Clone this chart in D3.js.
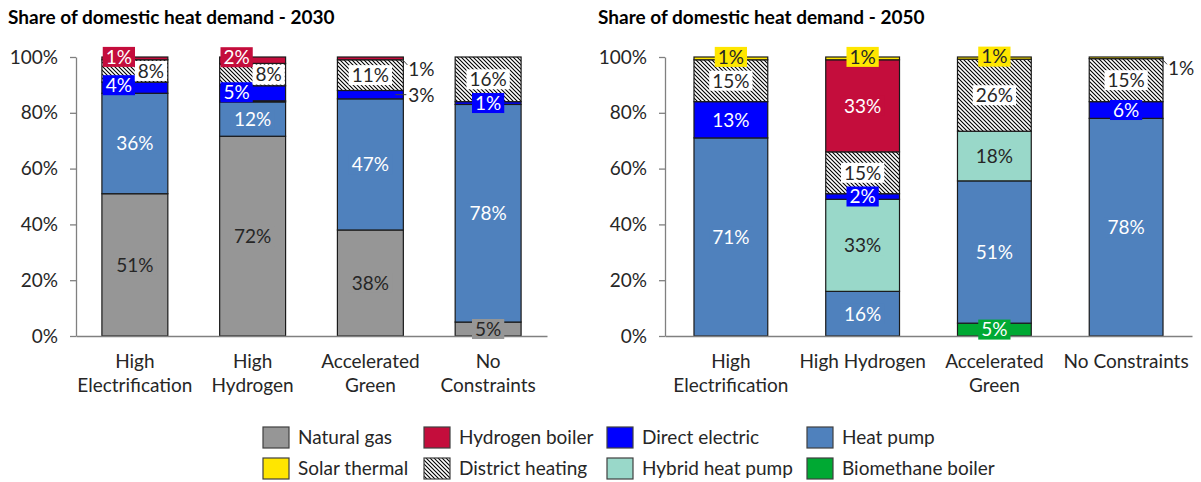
<!DOCTYPE html>
<html>
<head>
<meta charset="utf-8">
<script src="https://cdn.jsdelivr.net/npm/d3@7"></script>
<style>
  html, body { margin: 0; padding: 0; background: #fff; }
  svg { display: block; }
  text { font-family: Lato, "Open Sans", sans-serif; }
</style>
</head>
<body>
<svg id="chart" width="1201" height="482"></svg>
<script>
// ---------------- DATA ----------------
const categories = ["High Electrification", "High Hydrogen", "Accelerated Green", "No Constraints"];
const seriesNames = ["Biomethane boiler", "Natural gas", "Heat pump", "Hybrid heat pump",
                     "Direct electric", "District heating", "Hydrogen boiler", "Solar thermal"];
const legendOrder = ["Natural gas", "Hydrogen boiler", "Direct electric", "Heat pump",
                     "Solar thermal", "District heating", "Hybrid heat pump", "Biomethane boiler"];
const yTicks = [0, 20, 40, 60, 80, 100];
const chartTitles = ["Share of domestic heat demand - 2030", "Share of domestic heat demand - 2050"];

// 2030 shares (%)
const biomethane2030      = [0, 0, 0, 0];
const naturalGas2030      = [51, 71.6, 38, 5];
const heatPump2030        = [36, 12.3, 47, 78];
const hybridHeatPump2030  = [0, 0.4, 0, 0];
const directElectric2030  = [4, 5.4, 3, 1];
const districtHeating2030 = [8, 8, 11, 16];
const hydrogenBoiler2030  = [1, 2.3, 1, 0];
const solarThermal2030    = [0, 0, 0, 0];

// 2050 shares (%)
const biomethane2050      = [0, 0, 4.6, 0];
const naturalGas2050      = [0, 0, 0, 0];
const heatPump2050        = [71, 16, 51, 78];
const hybridHeatPump2050  = [0, 33, 17.8, 0];
const directElectric2050  = [13, 2, 0, 6];
const districtHeating2050 = [15, 15, 25.8, 15.4];
const hydrogenBoiler2050  = [0, 33, 0, 0];
const solarThermal2050    = [1, 1, 0.8, 0.6];

// ---------------- STYLE ----------------
const colors = {
  "Natural gas": "#969696",
  "Hydrogen boiler": "#C40D3C",
  "Direct electric": "#0000FF",
  "Heat pump": "#4F81BD",
  "Solar thermal": "#FFE600",
  "District heating": "url(#hatch)",
  "Hybrid heat pump": "#99D8C9",
  "Biomethane boiler": "#00A933"
};
const labelBg = {
  "Natural gas": "#969696",
  "Hydrogen boiler": "#C40D3C",
  "Direct electric": "#0000FF",
  "Heat pump": "#4F81BD",
  "Solar thermal": "#FFE600",
  "District heating": "#FFFFFF",
  "Hybrid heat pump": "#99D8C9",
  "Biomethane boiler": "#00A933"
};
const labelColor = {
  "Natural gas": "#262626",
  "Hydrogen boiler": "#FFFFFF",
  "Direct electric": "#FFFFFF",
  "Heat pump": "#FFFFFF",
  "Solar thermal": "#262626",
  "District heating": "#262626",
  "Hybrid heat pump": "#262626",
  "Biomethane boiler": "#FFFFFF"
};

const years = [
  {
    title: chartTitles[0], titleX: 8, x0: 76, x1: 547,
    values: {
      "Biomethane boiler": biomethane2030, "Natural gas": naturalGas2030, "Heat pump": heatPump2030,
      "Hybrid heat pump": hybridHeatPump2030, "Direct electric": directElectric2030,
      "District heating": districtHeating2030, "Hydrogen boiler": hydrogenBoiler2030,
      "Solar thermal": solarThermal2030
    },
    // manual label placement (category index -> series -> offset)
    place: {
      0: { "Hydrogen boiler": {dx: -16, dy: -1.5}, "District heating": {dx: 16, dy: 0}, "Direct electric": {dx: -16, dy: -2.5} },
      1: { "Hydrogen boiler": {dx: -16, dy: -3}, "District heating": {dx: 16, dy: 0}, "Direct electric": {dx: -16, dy: -1} },
      2: { "Hydrogen boiler": {outside: true, dy: 10.5, leader: "diag"}, "Direct electric": {outside: true, dy: 0, leader: "flat"} }
    }
  },
  {
    title: chartTitles[1], titleX: 598, x0: 665, x1: 1192,
    values: {
      "Biomethane boiler": biomethane2050, "Natural gas": naturalGas2050, "Heat pump": heatPump2050,
      "Hybrid heat pump": hybridHeatPump2050, "Direct electric": directElectric2050,
      "District heating": districtHeating2050, "Hydrogen boiler": hydrogenBoiler2050,
      "Solar thermal": solarThermal2050
    },
    place: {
      0: { "Solar thermal": {dx: 0, dy: -1.5} },
      1: { "Solar thermal": {dx: 0, dy: -1.5} },
      2: { "Solar thermal": {dx: 0, dy: -1.5} },
      3: { "Solar thermal": {outside: true, dy: 10.5, leader: "diag"} }
    }
  }
];

// ---------------- DRAW ----------------
const svg = d3.select("#chart");
const FONT = 19;

const defs = svg.append("defs");
const pat = defs.append("pattern")
  .attr("id", "hatch").attr("patternUnits", "userSpaceOnUse")
  .attr("width", 4).attr("height", 4);
pat.append("rect").attr("width", 4).attr("height", 4).attr("fill", "#fff");
pat.append("path").attr("d", "M-1,-1 L5,5 M-1,3 L1,5 M3,-1 L5,1")
  .attr("stroke", "#000").attr("stroke-width", 1.1);

const y = d3.scaleLinear().domain([0, 100]).range([336, 57]);

function measure(txt, size, weight) {
  const t = svg.append("text").attr("font-size", size).attr("font-weight", weight || "normal").text(txt);
  const w = t.node().getComputedTextLength();
  t.remove();
  return w;
}

function wrapWords(label, maxW) {
  const words = label.split(" ");
  const lines = [];
  let cur = "";
  words.forEach(w => {
    const test = cur ? cur + " " + w : w;
    if (cur && measure(test, FONT) > maxW) { lines.push(cur); cur = w; }
    else cur = test;
  });
  if (cur) lines.push(cur);
  return lines;
}

years.forEach(yr => {
  const g = svg.append("g");
  const x = d3.scaleBand().domain(categories).range([yr.x0, yr.x1])
    .paddingInner(0.44).paddingOuter(0.22);

  // title
  g.append("text").attr("x", yr.titleX).attr("y", 24)
    .attr("font-size", 19).attr("font-weight", "bold").attr("fill", "#000")
    .text(yr.title);

  // stack
  const rows = categories.map((c, i) => {
    const r = { category: c };
    seriesNames.forEach(s => r[s] = yr.values[s][i]);
    return r;
  });
  const stacked = d3.stack().keys(seriesNames)(rows);

  const barsG = g.append("g");
  stacked.forEach(layer => {
    const s = layer.key;
    barsG.selectAll(null).data(layer.filter(d => d[1] - d[0] > 0)).enter()
      .append("rect")
      .attr("x", d => x(d.data.category))
      .attr("width", x.bandwidth())
      .attr("y", d => y(d[1]))
      .attr("height", d => y(d[0]) - y(d[1]))
      .attr("fill", colors[s])
      .attr("stroke", "#1a1a1a").attr("stroke-width", 1.2);
  });

  // axes
  const yAxis = d3.axisLeft(y).tickValues(yTicks).tickFormat(d => d + "%")
    .tickSize(6).tickSizeOuter(0).tickPadding(12);
  const ya = g.append("g").attr("transform", `translate(${yr.x0},0)`).call(yAxis);
  ya.selectAll("path, line").attr("stroke", "#808080").attr("stroke-width", 1.3);
  ya.selectAll("text").attr("font-size", FONT).attr("fill", "#262626")
    .attr("font-family", "Lato, sans-serif");

  const xAxis = d3.axisBottom(x).tickSize(0).tickSizeOuter(0).tickFormat("");
  const xa = g.append("g").attr("transform", `translate(0,${y(0)})`).call(xAxis);
  xa.selectAll("path").attr("stroke", "#808080").attr("stroke-width", 1.3);

  categories.forEach(c => {
    const lines = wrapWords(c, x.step());
    const t = g.append("text").attr("text-anchor", "middle")
      .attr("font-size", FONT).attr("fill", "#262626");
    lines.forEach((ln, k) => {
      t.append("tspan").attr("x", x(c) + x.bandwidth() / 2).attr("y", 368 + k * 24).text(ln);
    });
  });

  // data labels
  const labG = g.append("g");
  stacked.forEach(layer => {
    const s = layer.key;
    layer.forEach((d, i) => {
      const v = d[1] - d[0];
      if (v < 0.5) return;
      const txt = Math.round(v) + "%";
      const cx = x(d.data.category) + x.bandwidth() / 2;
      const cy = y((d[0] + d[1]) / 2);
      const p = (yr.place[i] && yr.place[i][s]) || {dx: 0, dy: 0};
      const w = measure(txt, FONT);
      if (p.outside) {
        const right = x(d.data.category) + x.bandwidth();
        const ty = cy + p.dy;
        if (p.leader === "diag") {
          labG.append("line").attr("x1", right - 1).attr("y1", cy + 1)
            .attr("x2", right + 4).attr("y2", ty - 4)
            .attr("stroke", "#404040").attr("stroke-width", 1);
        } else {
          labG.append("line").attr("x1", right - 8).attr("y1", ty)
            .attr("x2", right + 3).attr("y2", ty)
            .attr("stroke", "#404040").attr("stroke-width", 1);
        }
        labG.append("text").attr("x", right + 5).attr("y", ty).attr("dy", "0.36em")
          .attr("font-size", FONT).attr("fill", "#262626").text(txt);
        return;
      }
      const lx = cx + (p.dx || 0), ly = cy + (p.dy || 0);
      labG.append("rect").attr("x", lx - w / 2 - 3).attr("y", ly - 10)
        .attr("width", w + 6).attr("height", 20).attr("fill", labelBg[s]);
      labG.append("text").attr("x", lx).attr("y", ly).attr("dy", "0.36em")
        .attr("text-anchor", "middle").attr("font-size", FONT)
        .attr("fill", labelColor[s]).text(txt);
    });
  });
});

// legend
const legCols = [263, 424, 607, 807];
const legRows = [427, 458];
const leg = svg.append("g");
legendOrder.forEach((s, i) => {
  const lx = legCols[i % 4], ly = legRows[Math.floor(i / 4)];
  leg.append("rect").attr("x", lx).attr("y", ly).attr("width", 26).attr("height", 21)
    .attr("fill", colors[s]).attr("stroke", "#404040").attr("stroke-width", 1.2);
  leg.append("text").attr("x", lx + 35).attr("y", ly + 10.5).attr("dy", "0.36em")
    .attr("font-size", FONT).attr("fill", "#262626").text(s);
});
</script>
</body>
</html>
